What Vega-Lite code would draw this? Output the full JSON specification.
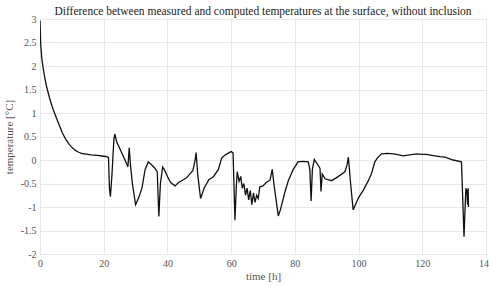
{
  "$schema": "https://vega.github.io/schema/vega-lite/v6.json",
  "autosize": "none",
  "width": 446,
  "height": 235,
  "padding": {"left": 40, "top": 19, "right": 3, "bottom": 32},
  "background": "white",
  "title": {"text": "Difference between measured and computed temperatures at the surface, without inclusion", "font": "'Liberation Serif', 'Times New Roman', serif", "fontSize": 11.5, "fontWeight": "normal", "color": "#222", "offset": -3, "anchor": "middle"},
  "config": {
    "view": {"stroke": "#b0b0b0", "strokeWidth": 1},
    "axis": {"gridColor": "#e8e8e8", "domain": false, "ticks": false}
  },
  "data": {"values": [
    {"t": 0, "v": 2.97}, {"t": 0.2, "v": 2.5}, {"t": 0.5, "v": 2.2}, {"t": 1, "v": 1.95}, {"t": 1.5, "v": 1.75},
    {"t": 2, "v": 1.58}, {"t": 3, "v": 1.32}, {"t": 4, "v": 1.1}, {"t": 5, "v": 0.92}, {"t": 6, "v": 0.75},
    {"t": 7, "v": 0.58}, {"t": 8, "v": 0.45}, {"t": 9, "v": 0.35}, {"t": 10, "v": 0.27}, {"t": 11, "v": 0.21},
    {"t": 12, "v": 0.17}, {"t": 13, "v": 0.14}, {"t": 14, "v": 0.13}, {"t": 16, "v": 0.11}, {"t": 18, "v": 0.1},
    {"t": 20, "v": 0.08}, {"t": 21, "v": 0.07}, {"t": 21.5, "v": 0.05}, {"t": 21.8, "v": -0.6}, {"t": 22.1, "v": -0.78},
    {"t": 22.6, "v": -0.3}, {"t": 23.2, "v": 0.45}, {"t": 23.5, "v": 0.55}, {"t": 24, "v": 0.4}, {"t": 25, "v": 0.25},
    {"t": 26, "v": 0.1}, {"t": 27, "v": -0.05}, {"t": 27.6, "v": -0.15}, {"t": 28, "v": 0.26}, {"t": 28.4, "v": -0.1},
    {"t": 29, "v": -0.5}, {"t": 30, "v": -0.95}, {"t": 31, "v": -0.8}, {"t": 32, "v": -0.6}, {"t": 33, "v": -0.2},
    {"t": 34, "v": -0.04}, {"t": 35, "v": -0.1}, {"t": 36, "v": -0.17}, {"t": 36.8, "v": -0.25}, {"t": 37.3, "v": -1.2},
    {"t": 37.8, "v": -0.5}, {"t": 38.5, "v": -0.15}, {"t": 39, "v": -0.2}, {"t": 40, "v": -0.35}, {"t": 41, "v": -0.48},
    {"t": 42.4, "v": -0.55}, {"t": 43.5, "v": -0.48}, {"t": 45, "v": -0.42}, {"t": 46, "v": -0.38}, {"t": 47, "v": -0.3},
    {"t": 48, "v": -0.22}, {"t": 48.7, "v": 0.0}, {"t": 49, "v": 0.16}, {"t": 49.5, "v": -0.3}, {"t": 50.4, "v": -0.82},
    {"t": 51.5, "v": -0.6}, {"t": 53, "v": -0.42}, {"t": 54.5, "v": -0.35}, {"t": 56, "v": -0.2}, {"t": 57, "v": 0.04},
    {"t": 58, "v": 0.1}, {"t": 59, "v": 0.14}, {"t": 60, "v": 0.18}, {"t": 60.6, "v": 0.15}, {"t": 61.2, "v": -1.28},
    {"t": 61.6, "v": -0.6}, {"t": 61.9, "v": -0.25}, {"t": 62.5, "v": -0.45}, {"t": 63, "v": -0.35}, {"t": 63.5, "v": -0.6},
    {"t": 64, "v": -0.5}, {"t": 64.5, "v": -0.75}, {"t": 65, "v": -0.6}, {"t": 65.5, "v": -0.85}, {"t": 66, "v": -0.65},
    {"t": 66.5, "v": -0.95}, {"t": 67, "v": -0.7}, {"t": 67.5, "v": -0.9}, {"t": 68, "v": -0.75}, {"t": 68.5, "v": -0.82},
    {"t": 69, "v": -0.57}, {"t": 70, "v": -0.55}, {"t": 71, "v": -0.48}, {"t": 72.2, "v": -0.43}, {"t": 72.9, "v": -0.2},
    {"t": 73.5, "v": -0.55}, {"t": 74.8, "v": -1.19}, {"t": 75.5, "v": -1.05}, {"t": 77, "v": -0.65}, {"t": 78, "v": -0.43},
    {"t": 79.5, "v": -0.2}, {"t": 81, "v": -0.04}, {"t": 82.5, "v": -0.03}, {"t": 84.2, "v": -0.04}, {"t": 84.7, "v": -0.2},
    {"t": 85.1, "v": -0.87}, {"t": 85.5, "v": -0.2}, {"t": 86.1, "v": 0.01}, {"t": 87, "v": -0.08}, {"t": 87.9, "v": -0.18},
    {"t": 88.2, "v": -0.67}, {"t": 88.6, "v": -0.3}, {"t": 89.5, "v": -0.4}, {"t": 91.5, "v": -0.44}, {"t": 93, "v": -0.38},
    {"t": 95.7, "v": -0.25}, {"t": 96.4, "v": -0.1}, {"t": 96.8, "v": 0.06}, {"t": 97.5, "v": -0.5}, {"t": 98.3, "v": -1.06},
    {"t": 99, "v": -0.95}, {"t": 100, "v": -0.8}, {"t": 101.5, "v": -0.64}, {"t": 103, "v": -0.45}, {"t": 104.1, "v": -0.28},
    {"t": 105.1, "v": -0.04}, {"t": 106, "v": 0.05}, {"t": 107.2, "v": 0.13}, {"t": 109, "v": 0.14}, {"t": 110.9, "v": 0.13},
    {"t": 112, "v": 0.12}, {"t": 114, "v": 0.09}, {"t": 116, "v": 0.11}, {"t": 118.2, "v": 0.13}, {"t": 120, "v": 0.12},
    {"t": 121.4, "v": 0.12}, {"t": 123, "v": 0.1}, {"t": 125.5, "v": 0.07}, {"t": 127.1, "v": 0.06}, {"t": 129.7, "v": 0.0},
    {"t": 132.3, "v": -0.04}, {"t": 133.1, "v": -1.63}, {"t": 133.5, "v": -0.9}, {"t": 133.7, "v": -0.6}, {"t": 134, "v": -0.65},
    {"t": 134.2, "v": -0.95}, {"t": 134.4, "v": -0.6}, {"t": 134.5, "v": -1.0}
  ]},
  "mark": {"type": "line", "color": "#111", "strokeWidth": 1.3, "clip": true},
  "encoding": {
    "x": {"field": "t", "type": "quantitative", "scale": {"domain": [0, 140], "nice": false, "zero": false},
      "axis": {"title": "time [h]", "values": [0, 20, 40, 60, 80, 100, 120, 140], "labelFont": "'Liberation Serif', 'Times New Roman', serif", "titleFont": "'Liberation Serif', 'Times New Roman', serif", "labelFontSize": 10, "titleFontSize": 11, "labelColor": "#555", "titleColor": "#555", "titleFontWeight": "normal", "labelPadding": 4, "titlePadding": 2, "labelFlush": false, "labelOverlap": false}},
    "y": {"field": "v", "type": "quantitative", "scale": {"domain": [-2, 3], "nice": false, "zero": false},
      "axis": {"title": "temperature [°C]", "values": [-2, -1.5, -1, -0.5, 0, 0.5, 1, 1.5, 2, 2.5, 3], "labelExpr": "datum.value + ''", "labelFont": "'Liberation Serif', 'Times New Roman', serif", "titleFont": "'Liberation Serif', 'Times New Roman', serif", "labelFontSize": 10, "titleFontSize": 11, "labelColor": "#555", "titleColor": "#555", "titleFontWeight": "normal", "labelPadding": 4, "titlePadding": 6, "labelOverlap": false}}
  }
}
